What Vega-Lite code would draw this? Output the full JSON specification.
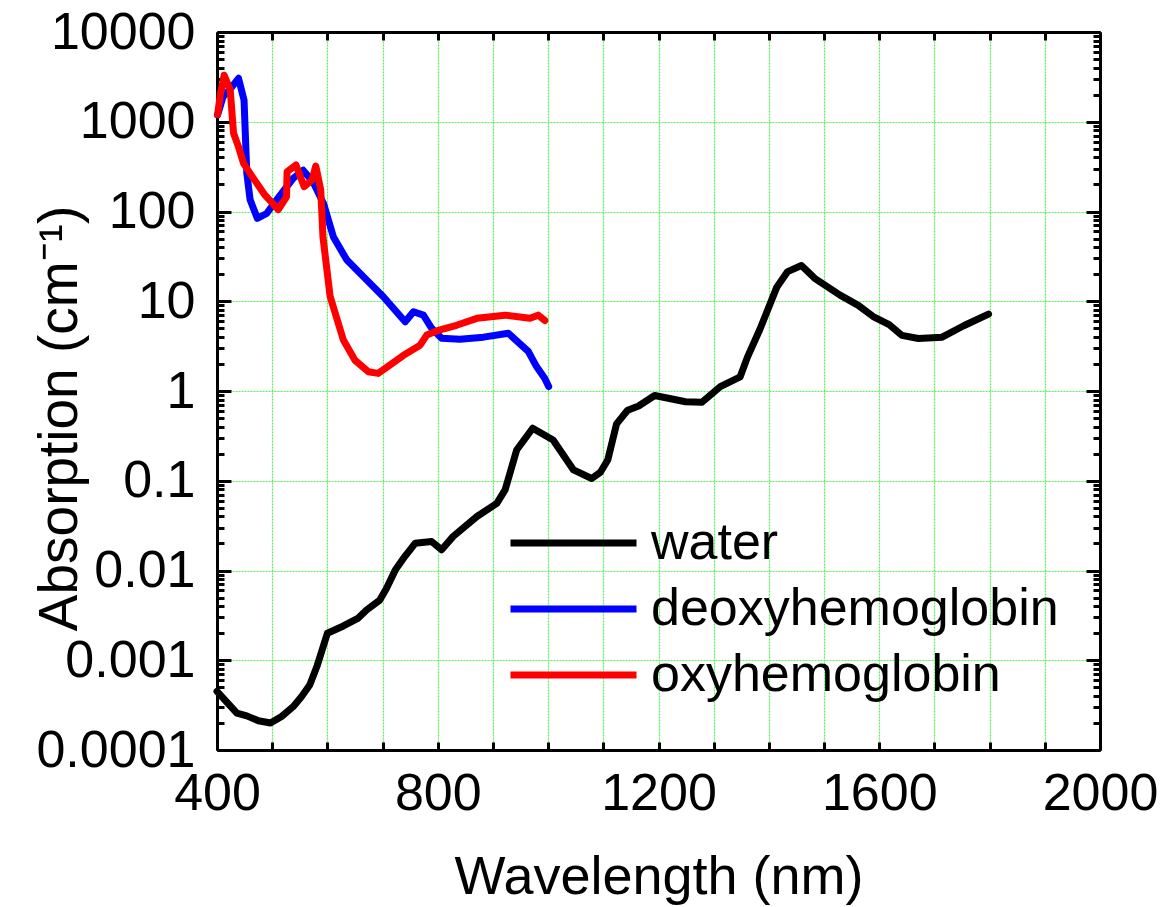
{
  "$schema": "https://vega.github.io/schema/vega-lite/v6.json",
  "width": 883,
  "height": 718,
  "autosize": {"type": "none"},
  "padding": {"left": 217, "top": 32, "right": 71, "bottom": 157},
  "background": "white",
  "config": {
    "view": {"stroke": null},
    "font": "Liberation Sans",
    "axis": {"labelFont": "Liberation Sans", "titleFont": "Liberation Sans", "labelColor": "black", "titleColor": "black", "titleFontWeight": "normal", "domainColor": "black", "domainWidth": 3, "tickColor": "black", "tickWidth": 3}
  },
  "data": {"values": [
    {"series": "water", "nm": 400, "abs": 0.00045},
    {"series": "water", "nm": 436, "abs": 0.000257},
    {"series": "water", "nm": 454, "abs": 0.00024},
    {"series": "water", "nm": 475, "abs": 0.000212},
    {"series": "water", "nm": 497, "abs": 0.0002},
    {"series": "water", "nm": 517, "abs": 0.000236},
    {"series": "water", "nm": 538, "abs": 0.000304},
    {"series": "water", "nm": 553, "abs": 0.000393},
    {"series": "water", "nm": 568, "abs": 0.00053},
    {"series": "water", "nm": 581, "abs": 0.00085},
    {"series": "water", "nm": 600, "abs": 0.002},
    {"series": "water", "nm": 629, "abs": 0.00241},
    {"series": "water", "nm": 656, "abs": 0.00295},
    {"series": "water", "nm": 671, "abs": 0.00363},
    {"series": "water", "nm": 695, "abs": 0.00468},
    {"series": "water", "nm": 707, "abs": 0.0063},
    {"series": "water", "nm": 723, "abs": 0.0101},
    {"series": "water", "nm": 738, "abs": 0.0137},
    {"series": "water", "nm": 759, "abs": 0.0201},
    {"series": "water", "nm": 789, "abs": 0.021},
    {"series": "water", "nm": 807, "abs": 0.017},
    {"series": "water", "nm": 828, "abs": 0.024},
    {"series": "water", "nm": 871, "abs": 0.04},
    {"series": "water", "nm": 907, "abs": 0.056},
    {"series": "water", "nm": 922, "abs": 0.079},
    {"series": "water", "nm": 943, "abs": 0.22},
    {"series": "water", "nm": 972, "abs": 0.385},
    {"series": "water", "nm": 1009, "abs": 0.285},
    {"series": "water", "nm": 1046, "abs": 0.132},
    {"series": "water", "nm": 1079, "abs": 0.106},
    {"series": "water", "nm": 1095, "abs": 0.125},
    {"series": "water", "nm": 1108, "abs": 0.17},
    {"series": "water", "nm": 1124, "abs": 0.43},
    {"series": "water", "nm": 1144, "abs": 0.61},
    {"series": "water", "nm": 1164, "abs": 0.68},
    {"series": "water", "nm": 1193, "abs": 0.89},
    {"series": "water", "nm": 1249, "abs": 0.76},
    {"series": "water", "nm": 1279, "abs": 0.75},
    {"series": "water", "nm": 1312, "abs": 1.12},
    {"series": "water", "nm": 1348, "abs": 1.44},
    {"series": "water", "nm": 1361, "abs": 2.37},
    {"series": "water", "nm": 1384, "abs": 4.9},
    {"series": "water", "nm": 1414, "abs": 14.2},
    {"series": "water", "nm": 1434, "abs": 21.4},
    {"series": "water", "nm": 1459, "abs": 25},
    {"series": "water", "nm": 1483, "abs": 18},
    {"series": "water", "nm": 1529, "abs": 11.7},
    {"series": "water", "nm": 1562, "abs": 9.0},
    {"series": "water", "nm": 1589, "abs": 6.76},
    {"series": "water", "nm": 1618, "abs": 5.5},
    {"series": "water", "nm": 1641, "abs": 4.17},
    {"series": "water", "nm": 1671, "abs": 3.85},
    {"series": "water", "nm": 1714, "abs": 3.98},
    {"series": "water", "nm": 1753, "abs": 5.33},
    {"series": "water", "nm": 1798, "abs": 7.2},
    {"series": "deoxyhemoglobin", "nm": 401, "abs": 1190},
    {"series": "deoxyhemoglobin", "nm": 411, "abs": 1900},
    {"series": "deoxyhemoglobin", "nm": 427, "abs": 2450},
    {"series": "deoxyhemoglobin", "nm": 439, "abs": 3050},
    {"series": "deoxyhemoglobin", "nm": 449, "abs": 1740},
    {"series": "deoxyhemoglobin", "nm": 454, "abs": 268},
    {"series": "deoxyhemoglobin", "nm": 460, "abs": 135},
    {"series": "deoxyhemoglobin", "nm": 473, "abs": 84},
    {"series": "deoxyhemoglobin", "nm": 490, "abs": 95},
    {"series": "deoxyhemoglobin", "nm": 508, "abs": 135},
    {"series": "deoxyhemoglobin", "nm": 538, "abs": 234},
    {"series": "deoxyhemoglobin", "nm": 556, "abs": 288},
    {"series": "deoxyhemoglobin", "nm": 574, "abs": 213},
    {"series": "deoxyhemoglobin", "nm": 593, "abs": 123},
    {"series": "deoxyhemoglobin", "nm": 611, "abs": 52},
    {"series": "deoxyhemoglobin", "nm": 635, "abs": 29},
    {"series": "deoxyhemoglobin", "nm": 671, "abs": 17.3},
    {"series": "deoxyhemoglobin", "nm": 701, "abs": 11.3},
    {"series": "deoxyhemoglobin", "nm": 741, "abs": 5.9},
    {"series": "deoxyhemoglobin", "nm": 756, "abs": 7.65},
    {"series": "deoxyhemoglobin", "nm": 774, "abs": 7.0},
    {"series": "deoxyhemoglobin", "nm": 789, "abs": 5.0},
    {"series": "deoxyhemoglobin", "nm": 807, "abs": 3.87},
    {"series": "deoxyhemoglobin", "nm": 840, "abs": 3.77},
    {"series": "deoxyhemoglobin", "nm": 883, "abs": 3.98},
    {"series": "deoxyhemoglobin", "nm": 928, "abs": 4.4},
    {"series": "deoxyhemoglobin", "nm": 964, "abs": 2.76},
    {"series": "deoxyhemoglobin", "nm": 979, "abs": 1.87},
    {"series": "deoxyhemoglobin", "nm": 994, "abs": 1.38},
    {"series": "deoxyhemoglobin", "nm": 1001, "abs": 1.12},
    {"series": "oxyhemoglobin", "nm": 401, "abs": 1200},
    {"series": "oxyhemoglobin", "nm": 406, "abs": 2000},
    {"series": "oxyhemoglobin", "nm": 413, "abs": 3300},
    {"series": "oxyhemoglobin", "nm": 424, "abs": 2260},
    {"series": "oxyhemoglobin", "nm": 430, "abs": 745},
    {"series": "oxyhemoglobin", "nm": 439, "abs": 525},
    {"series": "oxyhemoglobin", "nm": 448, "abs": 344},
    {"series": "oxyhemoglobin", "nm": 466, "abs": 234},
    {"series": "oxyhemoglobin", "nm": 487, "abs": 152},
    {"series": "oxyhemoglobin", "nm": 511, "abs": 105},
    {"series": "oxyhemoglobin", "nm": 526, "abs": 146},
    {"series": "oxyhemoglobin", "nm": 527, "abs": 277},
    {"series": "oxyhemoglobin", "nm": 543, "abs": 330},
    {"series": "oxyhemoglobin", "nm": 558, "abs": 189},
    {"series": "oxyhemoglobin", "nm": 572, "abs": 224},
    {"series": "oxyhemoglobin", "nm": 579, "abs": 321},
    {"series": "oxyhemoglobin", "nm": 588, "abs": 174},
    {"series": "oxyhemoglobin", "nm": 592, "abs": 52},
    {"series": "oxyhemoglobin", "nm": 605, "abs": 11.3},
    {"series": "oxyhemoglobin", "nm": 629, "abs": 3.7},
    {"series": "oxyhemoglobin", "nm": 650, "abs": 2.2},
    {"series": "oxyhemoglobin", "nm": 674, "abs": 1.64},
    {"series": "oxyhemoglobin", "nm": 692, "abs": 1.57},
    {"series": "oxyhemoglobin", "nm": 738, "abs": 2.5},
    {"series": "oxyhemoglobin", "nm": 768, "abs": 3.24},
    {"series": "oxyhemoglobin", "nm": 780, "abs": 4.2},
    {"series": "oxyhemoglobin", "nm": 804, "abs": 4.8},
    {"series": "oxyhemoglobin", "nm": 834, "abs": 5.4},
    {"series": "oxyhemoglobin", "nm": 871, "abs": 6.45},
    {"series": "oxyhemoglobin", "nm": 922, "abs": 7.0},
    {"series": "oxyhemoglobin", "nm": 967, "abs": 6.45},
    {"series": "oxyhemoglobin", "nm": 982, "abs": 7.0},
    {"series": "oxyhemoglobin", "nm": 994, "abs": 6.1}
  ]},
  "encoding": {
    "x": {"field": "nm", "type": "quantitative", "scale": {"domain": [400, 2000], "nice": false, "zero": false}},
    "y": {"field": "abs", "type": "quantitative", "scale": {"type": "log", "domain": [0.0001, 10000], "nice": false}},
    "color": {"field": "series", "type": "nominal",
      "scale": {"domain": ["water", "deoxyhemoglobin", "oxyhemoglobin"], "range": ["#000000", "#0000ff", "#ff0000"]},
      "legend": {"title": null, "orient": "none", "legendX": 290, "legendY": 478, "symbolType": "stroke", "symbolSize": 15876, "symbolStrokeWidth": 7, "labelFont": "Liberation Sans", "labelFontSize": 52, "labelColor": "black", "labelOffset": 11, "labelLimit": 700, "padding": 0, "rowPadding": 0, "clipHeight": 66}
    }
  },
  "layer": [
    {
      "transform": [{"filter": "datum.series === 'water'"}],
      "mark": {"type": "line", "strokeWidth": 7, "strokeJoin": "round", "strokeCap": "round"},
      "encoding": {
        "x": {"field": "nm", "type": "quantitative", "title": "Wavelength (nm)",
          "axis": {"orient": "bottom", "values": [400,500,600,700,800,900,1000,1100,1200,1300,1400,1500,1600,1700,1800,1900,2000],
            "labelExpr": "datum.value % 400 === 0 ? datum.label : ''", "format": "d",
            "labelFontSize": 52, "labelPadding": 26, "tickSize": -8, "labelFlush": false, "labelOverlap": false,
            "grid": true, "gridColor": "#55f555", "gridDash": [2, 1], "gridWidth": 1.2,
            "titleFontSize": 54, "titleBaseline": "alphabetic", "titleY": 143}},
        "y": {"field": "abs", "type": "quantitative", "title": "Absorption (cm⁻¹)",
          "axis": {"orient": "left", "values": [0.0001,0.0002,0.0003,0.0004,0.0005,0.0006,0.0007,0.0008,0.0009,0.001,0.002,0.003,0.004,0.005,0.006,0.007,0.008,0.009,0.01,0.02,0.03,0.04,0.05,0.06,0.07,0.08,0.09,0.1,0.2,0.3,0.4,0.5,0.6,0.7,0.8,0.9,1,2,3,4,5,6,7,8,9,10,20,30,40,50,60,70,80,90,100,200,300,400,500,600,700,800,900,1000,2000,3000,4000,5000,6000,7000,8000,9000,10000],
            "labelExpr": "abs(log(datum.value)/LN10 - round(log(datum.value)/LN10)) < 0.001 ? format(datum.value, '~g') : ''",
            "labelFontSize": 52, "labelPadding": 36, "labelFlush": false, "labelOverlap": false, "labelBaseline": "middle",
            "tickSize": {"condition": {"test": "abs(log(datum.value)/LN10 - round(log(datum.value)/LN10)) < 0.001", "value": -14}, "value": -7},
            "grid": true, "gridColor": "#55f555", "gridDash": [2, 1], "gridWidth": 1.2,
            "gridOpacity": {"condition": {"test": "abs(log(datum.value)/LN10 - round(log(datum.value)/LN10)) < 0.001", "value": 1}, "value": 0},
            "titleFontSize": 55, "titleBaseline": "alphabetic", "titleX": -141, "titleY": 386, "titleAngle": 270}}
      }
    },
    {
      "transform": [{"filter": "datum.series === 'deoxyhemoglobin'"}],
      "mark": {"type": "line", "strokeWidth": 7, "strokeJoin": "round", "strokeCap": "round"},
      "encoding": {
        "x": {"field": "nm", "type": "quantitative",
          "axis": {"orient": "top", "title": null, "labels": false, "values": [400,500,600,700,800,900,1000,1100,1200,1300,1400,1500,1600,1700,1800,1900,2000], "tickSize": -8, "grid": false}},
        "y": {"field": "abs", "type": "quantitative",
          "axis": {"orient": "right", "title": null, "labels": false, "grid": false,
            "values": [0.0001,0.0002,0.0003,0.0004,0.0005,0.0006,0.0007,0.0008,0.0009,0.001,0.002,0.003,0.004,0.005,0.006,0.007,0.008,0.009,0.01,0.02,0.03,0.04,0.05,0.06,0.07,0.08,0.09,0.1,0.2,0.3,0.4,0.5,0.6,0.7,0.8,0.9,1,2,3,4,5,6,7,8,9,10,20,30,40,50,60,70,80,90,100,200,300,400,500,600,700,800,900,1000,2000,3000,4000,5000,6000,7000,8000,9000,10000],
            "tickSize": {"condition": {"test": "abs(log(datum.value)/LN10 - round(log(datum.value)/LN10)) < 0.001", "value": -14}, "value": -7}}}
      }
    },
    {
      "transform": [{"filter": "datum.series === 'oxyhemoglobin'"}],
      "mark": {"type": "line", "strokeWidth": 7, "strokeJoin": "round", "strokeCap": "round"},
      "encoding": {
        "x": {"field": "nm", "type": "quantitative", "axis": null},
        "y": {"field": "abs", "type": "quantitative", "axis": null}
      }
    }
  ],
  "resolve": {"axis": {"x": "independent", "y": "independent"}}
}
